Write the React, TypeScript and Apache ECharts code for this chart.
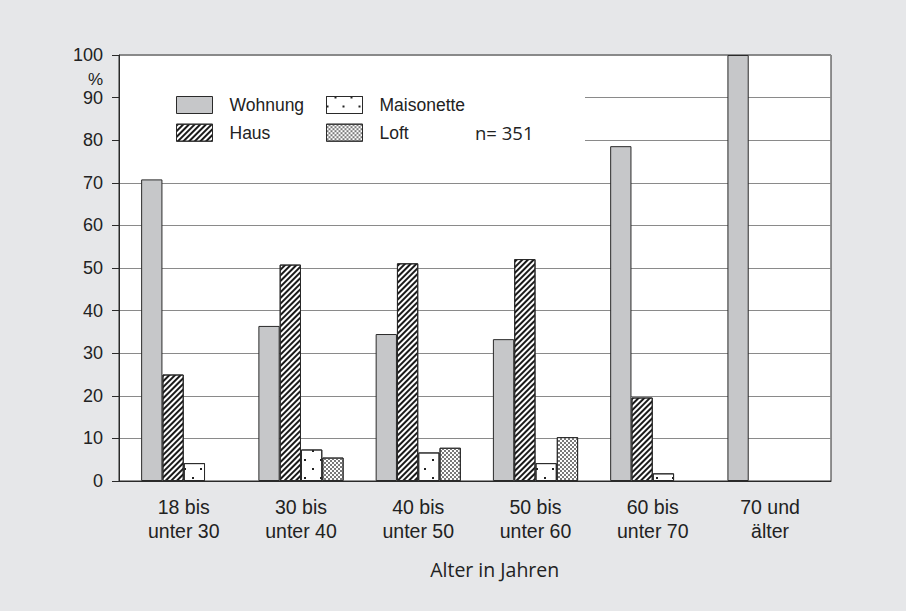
import React, { useEffect, useRef } from 'react';
import * as echarts from 'echarts';

const categories = ['18 bis\nunter 30', '30 bis\nunter 40', '40 bis\nunter 50', '50 bis\nunter 60', '60 bis\nunter 70', '70 und\nälter'];
const wohnung: (number | null)[] = [70.8, 36.4, 34.5, 33.3, 78.6, 100];
const haus: (number | null)[] = [25.0, 50.8, 51.1, 52.1, 19.6, null];
const maisonette: (number | null)[] = [4.2, 7.4, 6.7, 4.2, 1.8, null];
const loft: (number | null)[] = [null, 5.5, 7.8, 10.3, null, null];
const seriesNames = ['Wohnung', 'Haus', 'Maisonette', 'Loft'];
const categoryPositions = [0, 1, 2, 3, 4, 5];

const toPairs = (arr: (number | null)[]) =>
  arr.map((v, i) => (v == null ? null : [categoryPositions[i], v])).filter((d) => d !== null);

const TEXT = '#222';
const BORDER = '#2a2a2a';

export default function App() {
  const ref = useRef<HTMLDivElement>(null);
  useEffect(() => {
    document.body.style.margin = '0';
    const chart = echarts.init(ref.current!, null, { renderer: 'svg' });
    const baseBar = {
      type: 'bar',
      barWidth: 21.3,
      barGap: '0%',
    };
    const legendCommon = {
      orient: 'vertical',
      top: 96,
      padding: 0,
      itemWidth: 36,
      itemHeight: 17,
      itemGap: 9.7,
      icon: 'rect',
      selectedMode: false,
      itemStyle: { borderColor: BORDER, borderWidth: 1 },
      textStyle: { fontFamily: 'Liberation Sans', fontSize: 17.5, lineHeight: 17, color: TEXT, padding: [0, 0, 0, 12] },
    };
    const option: any = {
      animation: false,
      backgroundColor: '#e6e7e9',
      grid: {
        left: 119,
        top: 55,
        width: 712,
        bottom: 130,
        show: true,
        backgroundColor: '#fff',
        borderColor: BORDER,
        borderWidth: 1,
      },
      legend: [
        { ...legendCommon, data: [seriesNames[0], seriesNames[1]], left: 176 },
        { ...legendCommon, data: [seriesNames[2], seriesNames[3]], left: 326 },
      ],
      xAxis: {
        type: 'value',
        min: -0.552,
        max: 5.52,
        axisLine: { show: true, onZero: false, lineStyle: { color: BORDER, width: 1 } },
        axisTick: { show: false },
        splitLine: { show: false },
        axisLabel: {
          customValues: categoryPositions,
          formatter: (v: number) => {
            const i = Math.round(v);
            return Math.abs(v - i) < 1e-6 && categories[i] ? categories[i] : '';
          },
          fontFamily: 'Liberation Sans',
          fontSize: 19.5,
          lineHeight: 24,
          margin: 14,
          color: TEXT,
        },
      },
      yAxis: {
        type: 'value',
        min: 0,
        max: 100,
        interval: 10,
        axisLine: { show: true, onZero: false, lineStyle: { color: BORDER, width: 1 } },
        axisTick: { show: true, length: 7, lineStyle: { color: BORDER, width: 1 } },
        axisLabel: { fontFamily: 'Liberation Sans', fontSize: 18, lineHeight: 16, color: TEXT, margin: 16 },
        splitLine: { show: true, lineStyle: { color: '#8a8a8a', width: 1 } },
      },
      graphic: [
        {
          type: 'rect',
          z: 1,
          shape: { x: 120, y: 57, width: 465, height: 95 },
          style: { fill: '#fff' },
        },
        {
          type: 'text',
          z: 5,
          x: 103,
          y: 79,
          style: { text: '%', fontFamily: 'Liberation Sans', fontSize: 17, lineHeight: 15, fill: TEXT, align: 'right', verticalAlign: 'middle' },
        },
        {
          type: 'text',
          z: 5,
          x: 475,
          y: 132,
          style: { text: 'n= 351', fontFamily: 'Open Sans', fontSize: 18.5, fill: TEXT, align: 'left', verticalAlign: 'middle' },
        },
        {
          type: 'text',
          z: 5,
          x: 494.7,
          y: 569,
          style: { text: 'Alter in Jahren', fontFamily: 'Open Sans', fontSize: 19.5, fill: TEXT, align: 'center', verticalAlign: 'middle' },
        },
      ],
      series: [
        {
          ...baseBar,
          name: seriesNames[0],
          data: toPairs(wohnung),
          itemStyle: { color: '#c6c7c9', borderColor: BORDER, borderWidth: 1 },
        },
        {
          ...baseBar,
          name: seriesNames[1],
          data: toPairs(haus),
          itemStyle: {
            color: '#fff',
            borderColor: BORDER,
            borderWidth: 1,
            decal: {
              symbol: 'rect',
              symbolSize: 1,
              symbolKeepAspect: false,
              color: '#1a1a1a',
              dashArrayX: [1, 0],
              dashArrayY: [1.9, 1.7],
              rotation: -Math.PI / 4,
            },
          },
        },
        {
          ...baseBar,
          name: seriesNames[2],
          data: toPairs(maisonette),
          itemStyle: {
            color: '#fff',
            borderColor: BORDER,
            borderWidth: 1,
            decal: {
              symbol: 'rect',
              symbolSize: 1,
              symbolKeepAspect: false,
              color: '#222',
              dashArrayX: [[1.5, 13.5], [0, 7.5, 1.5, 6]],
              dashArrayY: [1.5, 6.5],
              rotation: 0,
            },
          },
        },
        {
          ...baseBar,
          name: seriesNames[3],
          data: toPairs(loft),
          itemStyle: {
            color: '#fff',
            borderColor: BORDER,
            borderWidth: 1,
            decal: {
              symbol: 'rect',
              symbolSize: 1,
              symbolKeepAspect: false,
              color: '#7a7a7a',
              dashArrayX: [[1.5, 1.5], [0, 1.5, 1.5, 0]],
              dashArrayY: [1.5, 0],
              rotation: 0,
            },
          },
        },
      ],
    };
    chart.setOption(option);
    return () => chart.dispose();
  }, []);
  return <div ref={ref} style={{ width: 906, height: 611 }} />;
}
